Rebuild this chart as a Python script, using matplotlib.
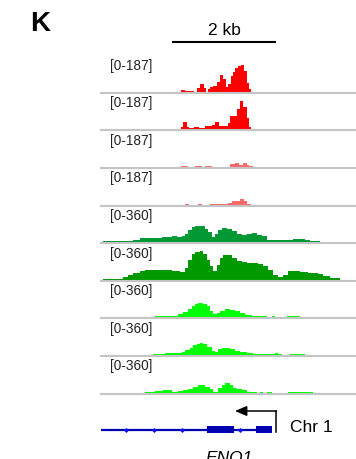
import matplotlib
matplotlib.use("Agg")
import matplotlib.pyplot as plt
from matplotlib.lines import Line2D

plt.rcParams['font.family'] = ['Liberation Sans', 'DejaVu Sans']

W, H = 356, 460
WINDOW_BP = 4896  # genomic window shown (bp)

# ---------------- data ----------------
track_ranges = [187, 187, 187, 187, 360, 360, 360, 360, 360]
track_labels = ["[0-187]"] * 4 + ["[0-360]"] * 5
track_colors = ["#ff0000", "#ff0000", "#ff6b6b", "#ff6b6b",
                "#009933", "#009900", "#00ff00", "#00ff00", "#00ff00"]

t1_edges = [1536, 1613, 1709, 1792, 1850, 1901, 1978, 2010, 2048, 2093, 2157, 2221,
            2285, 2349, 2394, 2445, 2490, 2528, 2573, 2637, 2682, 2746, 2810, 2848, 2880]
t1_vals = [9, 2, 3, 0, 18, 41, 18, 0, 14, 25, 32, 50, 89, 68, 23, 41, 85, 103, 124,
           139, 143, 112, 46, 14]

t2_edges = [1536, 1568, 1645, 1696, 1792, 1882, 1997, 2138, 2189, 2266, 2432, 2477,
            2605, 2669, 2733, 2810, 2848, 2880]
t2_vals = [14, 37, 11, 9, 14, 9, 20, 23, 41, 20, 32, 73, 107, 153, 121, 59, 11]

t3_edges = [1536, 1664, 1805, 1933, 1997, 2125, 2477, 2573, 2650, 2720, 2810, 2848, 2912]
t3_vals = [4, 0, 4, 0, 4, 0, 14, 23, 12, 23, 12, 4]

t4_edges = [1613, 1690, 1856, 1933, 2093, 2445, 2509, 2669, 2746, 2810, 2880]
t4_vals = [4, 0, 4, 0, 4, 9, 18, 28, 18, 5]

t5_edges = [45, 621, 749, 941, 1165, 1357, 1453, 1549, 1613, 1677, 1741, 1805, 1869,
            1933, 1997, 2061, 2125, 2189, 2253, 2317, 2413, 2509, 2605, 2701, 2797,
            2893, 2989, 3085, 3181, 3373, 3565, 3693, 3821, 3917, 4013, 4205]
t5_vals = [10, 21, 41, 44, 51, 59, 51, 65, 82, 127, 151, 162, 168, 162, 137, 103, 48,
           82, 127, 144, 134, 110, 82, 75, 85, 90, 75, 59, 24, 17, 21, 34, 31, 21, 10]

t6_edges = [45, 429, 525, 621, 749, 845, 1357, 1517, 1613, 1677, 1741, 1805, 1901,
            1965, 2029, 2093, 2157, 2221, 2285, 2349, 2509, 2605, 2701, 2797, 3021,
            3117, 3213, 3309, 3405, 3501, 3597, 3821, 3981, 4173, 4269, 4397, 4589]
t6_vals = [10, 24, 44, 69, 85, 100, 93, 79, 120, 206, 264, 285, 295, 264, 206, 137,
           85, 154, 223, 250, 223, 196, 182, 172, 162, 137, 103, 51, 24, 51, 93, 75,
           69, 55, 41, 13]

t7_edges = [1037, 1485, 1581, 1677, 1741, 1805, 1869, 1965, 2029, 2093, 2157, 2221,
            2285, 2381, 2477, 2573, 2669, 2765, 2893, 3053, 3181, 3277, 3341, 3565,
            3661, 3821, 4333]
t7_vals = [17, 34, 59, 85, 113, 137, 147, 137, 113, 69, 34, 44, 69, 85, 75, 62, 44,
           28, 17, 10, 0, 10, 0, 10, 17, 7]

t8_edges = [1005, 1229, 1357, 1485, 1549, 1613, 1709, 1773, 1837, 1901, 1965, 2029,
            2125, 2189, 2253, 2317, 2477, 2573, 2669, 2797, 2925, 3341, 3405, 3469,
            3629, 3917]
t8_vals = [7, 17, 24, 17, 31, 51, 75, 103, 116, 127, 110, 82, 41, 31, 59, 75, 65, 41,
           31, 17, 7, 17, 7, 0, 7]

t9_edges = [845, 1037, 1197, 1357, 1485, 1581, 1677, 1773, 1869, 1997, 2093, 2157,
            2253, 2317, 2381, 2477, 2541, 2605, 2701, 2797, 2925, 2989, 3053, 3117,
            3181, 3277, 3597, 3821, 4077]
t9_vals = [7, 17, 24, 10, 17, 28, 41, 59, 75, 59, 34, 7, 51, 75, 96, 75, 51, 34, 24,
           10, 7, 0, 7, 0, 7, 0, 10, 7]

tracks = [(t1_edges, t1_vals), (t2_edges, t2_vals), (t3_edges, t3_vals),
          (t4_edges, t4_vals), (t5_edges, t5_vals), (t6_edges, t6_vals),
          (t7_edges, t7_vals), (t8_edges, t8_vals), (t9_edges, t9_vals)]

scale_bar_start, scale_bar_len = 1369, 2000
gene_start, gene_end = 0, 3277
exons = [(2041, 2554), (2976, 3277)]
strand_marks = [480, 1018, 1555, 2663]
tss_pos, tss_arrow_end = 3360, 2573

# ---------------- layout ----------------
fig = plt.figure(figsize=(W / 100, H / 100), dpi=100)

def fx(x):
    return x / W

def fy(y):
    return 1 - y / H

X0, X1 = 101, 356
TRACK_H = 35
first_base, step = 92.7, 37.6

for i, ((edges, vals), rng, lab, col) in enumerate(
        zip(tracks, track_ranges, track_labels, track_colors)):
    base = first_base + i * step
    ax = fig.add_axes([fx(X0), fy(base), fx(X1 - X0), TRACK_H / H])
    ax.set_xlim(0, WINDOW_BP)
    ax.set_ylim(0, rng)
    ax.axis('off')
    ax.stairs(vals, edges, fill=True, color=col, linewidth=0)
    fig.add_artist(Line2D([fx(X0), fx(X1)], [fy(base + 1), fy(base + 1)],
                          transform=fig.transFigure, color='#c4c4c4', lw=1.5))
    fig.text(fx(110), fy(base - 23), lab, fontsize=9.8, ha='left', va='baseline',
             color='#222222')

# panel letter
fig.text(fx(30), fy(11), "K", fontsize=20, fontweight='bold', ha='left', va='top')

# scale bar
axs = fig.add_axes([fx(X0), fy(60), fx(X1 - X0), 40 / H])
axs.set_xlim(0, WINDOW_BP)
axs.set_ylim(60, 20)
axs.axis('off')
axs.plot([scale_bar_start, scale_bar_start + scale_bar_len], [43, 43], color='black',
         lw=1.5, solid_capstyle='butt')
axs.text(scale_bar_start + scale_bar_len / 2, 35, "2 kb", fontsize=12.5,
         ha='center', va='baseline')

# gene track
axg = fig.add_axes([fx(X0), 0, fx(X1 - X0), 60 / H])
axg.set_xlim(0, WINDOW_BP)
axg.set_ylim(460, 400)
axg.axis('off')
GENE_Y = 430.7
gene_col = '#0000b2'
axg.plot([gene_start, gene_end], [GENE_Y, GENE_Y], color=gene_col, lw=1.6,
         solid_capstyle='butt')
for s, e in exons:
    axg.fill_between([s, e], GENE_Y - 3.7, GENE_Y + 3.7, color=gene_col, lw=0)
axg.plot(strand_marks, [GENE_Y] * len(strand_marks), ls='none', marker='D',
         markersize=2.6, color='#1010ff', markeredgewidth=0)
axg.plot([tss_pos, tss_pos], [432.7, 412], color='black', lw=1.1)
axg.annotate('', xy=(tss_arrow_end, 412), xytext=(tss_pos + 8, 412),
             arrowprops=dict(arrowstyle='-|>,head_length=0.7,head_width=0.3',
                             color='black', lw=1.1, mutation_scale=10,
                             shrinkA=0, shrinkB=0))

fig.text(fx(290), fy(427.5), "Chr 1", fontsize=12.5, ha='left', va='center')
fig.text(fx(229), fy(451), "ENO1", fontsize=12.5, style='italic', ha='center',
         va='top')

fig.savefig("out.png", dpi=100)
